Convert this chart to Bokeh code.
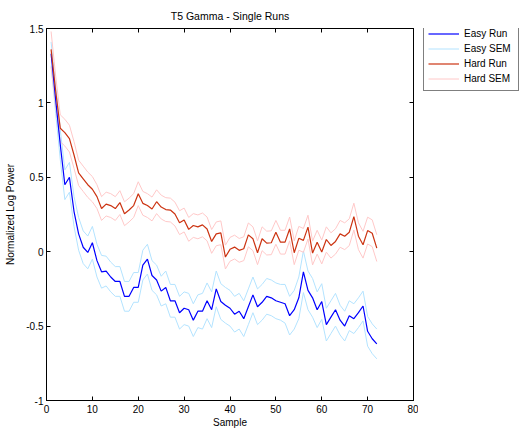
from bokeh.plotting import figure
from bokeh.layouts import row
from bokeh.models import (LinearAxis, Range1d, FixedTicker, CustomJSTickFormatter,
                          Legend, LegendItem)
from bokeh.embed import file_html
from bokeh.resources import INLINE

samples = list(range(1, 73))

easy_run = [1.33, 1.02, 0.72, 0.45, 0.50, 0.27, 0.12, 0.03, -0.005, 0.06,
            -0.06, -0.135, -0.13, -0.17, -0.20, -0.20, -0.30, -0.30, -0.24, -0.24,
            -0.09, -0.05, -0.16, -0.19, -0.265, -0.24, -0.33, -0.33, -0.41, -0.38,
            -0.39, -0.46, -0.40, -0.40, -0.33, -0.39, -0.25, -0.335, -0.36, -0.38,
            -0.42, -0.40, -0.45, -0.37, -0.29, -0.37, -0.34, -0.30, -0.31, -0.33,
            -0.34, -0.35, -0.43, -0.39, -0.31, -0.135, -0.26, -0.31, -0.39, -0.335,
            -0.49, -0.44, -0.39, -0.46, -0.50, -0.43, -0.45, -0.41, -0.365, -0.535,
            -0.585, -0.62]

easy_sem = [0.08, 0.09, 0.10, 0.10, 0.10, 0.10, 0.11, 0.11, 0.11, 0.11,
            0.11, 0.11, 0.10, 0.10, 0.10, 0.10, 0.10, 0.10, 0.10, 0.10,
            0.10, 0.10, 0.10, 0.10, 0.10, 0.11, 0.11, 0.11, 0.11, 0.11,
            0.11, 0.11, 0.11, 0.12, 0.12, 0.12, 0.12, 0.12, 0.12, 0.12,
            0.12, 0.12, 0.12, 0.12, 0.12, 0.12, 0.12, 0.12, 0.12, 0.12,
            0.12, 0.13, 0.13, 0.13, 0.14, 0.14, 0.13, 0.13, 0.12, 0.12,
            0.11, 0.11, 0.11, 0.10, 0.10, 0.10, 0.10, 0.10, 0.10, 0.10,
            0.10, 0.10]

hard_run = [1.36, 1.08, 0.83, 0.80, 0.76, 0.65, 0.53, 0.49, 0.45, 0.42,
            0.37, 0.29, 0.32, 0.31, 0.29, 0.33, 0.255, 0.28, 0.31, 0.39,
            0.325, 0.31, 0.287, 0.336, 0.30, 0.283, 0.28, 0.253, 0.195, 0.213,
            0.15, 0.176, 0.167, 0.18, 0.153, 0.069, 0.12, 0.127, -0.036, 0.016,
            0.031, 0.009, 0.02, 0.113, 0.087, -0.007, 0.087, 0.058, 0.06, 0.13,
            0.064, 0.064, 0.153, -0.007, 0.09, 0.076, 0.165, -0.009, 0.064, -0.002,
            0.082, 0.042, 0.069, 0.12, 0.104, 0.131, 0.236, 0.104, 0.047, 0.142,
            0.124, 0.024]

hard_sem = [0.12, 0.10, 0.09, 0.09, 0.09, 0.09, 0.085, 0.085, 0.085, 0.085,
            0.08, 0.08, 0.08, 0.08, 0.08, 0.08, 0.08, 0.08, 0.08, 0.08,
            0.08, 0.08, 0.08, 0.08, 0.08, 0.08, 0.08, 0.08, 0.08, 0.08,
            0.08, 0.08, 0.08, 0.08, 0.08, 0.08, 0.08, 0.08, 0.08, 0.08,
            0.08, 0.08, 0.08, 0.08, 0.08, 0.08, 0.08, 0.08, 0.08, 0.08,
            0.08, 0.08, 0.08, 0.08, 0.08, 0.08, 0.08, 0.08, 0.08, 0.08,
            0.085, 0.085, 0.085, 0.09, 0.09, 0.09, 0.09, 0.09, 0.09, 0.09,
            0.09, 0.09]

x_ticks = [0, 10, 20, 30, 40, 50, 60, 70, 80]
y_ticks = [-1, -0.5, 0, 0.5, 1, 1.5]
legend_labels = ["Easy Run", "Easy SEM", "Hard Run", "Hard SEM"]

easy_up = [r + s for r, s in zip(easy_run, easy_sem)]
easy_lo = [r - s for r, s in zip(easy_run, easy_sem)]
hard_up = [r + s for r, s in zip(hard_run, hard_sem)]
hard_lo = [r - s for r, s in zip(hard_run, hard_sem)]

FONT = "Liberation Sans"
C_EASY = "#0000FF"
C_EASY_SEM = "#B3E3FF"
C_HARD = "#CC3311"
C_HARD_SEM = "#FFC8C8"

p = figure(width=418, height=430,
           x_range=Range1d(0, 80), y_range=Range1d(-1, 1.5),
           output_backend="svg", toolbar_location=None,
           min_border_left=46, min_border_right=5, min_border_top=28, min_border_bottom=27,
           x_axis_label="Sample", y_axis_label="Normalized Log Power")
p.background_fill_color = "white"
p.border_fill_color = "white"
p.outline_line_color = "black"
p.outline_line_width = 1
p.xgrid.visible = False
p.ygrid.visible = False

p.title.text = "T5 Gamma - Single Runs"
p.title.align = "center"
p.title.text_font = FONT
p.title.text_font_style = "normal"
p.title.text_font_size = "10.5px"
p.title.text_color = "black"
p.title.standoff = 13

fmt = CustomJSTickFormatter(code="return tick.toString();")

for ax in p.xaxis:
    ax.ticker = FixedTicker(ticks=x_ticks)
    ax.formatter = fmt
for ax in p.yaxis:
    ax.ticker = FixedTicker(ticks=y_ticks)
    ax.formatter = fmt

for ax in list(p.xaxis) + list(p.yaxis):
    ax.major_tick_in = 4
    ax.major_tick_out = 0
    ax.minor_tick_line_color = None
    ax.axis_line_color = "black"
    ax.major_tick_line_color = "black"
    ax.major_label_text_font = FONT
    ax.major_label_text_font_size = "10px"
    ax.major_label_text_color = "black"
    ax.axis_label_text_font = FONT
    ax.axis_label_text_font_size = "10px"
    ax.axis_label_text_font_style = "normal"
    ax.axis_label_text_color = "black"

p.xaxis.major_label_standoff = 4
p.xaxis.axis_label_standoff = 1
p.yaxis.major_label_standoff = 3
p.yaxis.axis_label_standoff = 7

top = LinearAxis(ticker=FixedTicker(ticks=x_ticks), major_tick_in=4, major_tick_out=0,
                 minor_tick_line_color=None, major_label_text_font_size="1px",
                 major_label_text_color=None, major_label_standoff=0,
                 axis_line_color="black")
right = LinearAxis(ticker=FixedTicker(ticks=y_ticks), major_tick_in=4, major_tick_out=0,
                   minor_tick_line_color=None, major_label_text_font_size="1px",
                   major_label_text_color=None, major_label_standoff=0,
                   axis_line_color="black")
p.add_layout(top, "above")
p.add_layout(right, "right")

p.line(samples, easy_up, line_color=C_EASY_SEM, line_width=1)
p.line(samples, easy_lo, line_color=C_EASY_SEM, line_width=1)
p.line(samples, hard_up, line_color=C_HARD_SEM, line_width=1)
p.line(samples, hard_lo, line_color=C_HARD_SEM, line_width=1)
p.line(samples, easy_run, line_color=C_EASY, line_width=1.2)
p.line(samples, hard_run, line_color=C_HARD, line_width=1.2)

# legend panel to the right of the axes box (its own ranges keep the
# proxy lines out of view; only the legend box shows)
lg = figure(width=101, height=430, x_range=Range1d(-20, -10), y_range=Range1d(-1, 1.5),
            output_backend="svg", toolbar_location=None,
            x_axis_location=None, y_axis_location=None,
            min_border_left=0, min_border_right=0, min_border_top=0, min_border_bottom=0)
lg.xgrid.visible = False
lg.ygrid.visible = False
lg.outline_line_color = None
lg.background_fill_color = "white"
lg.border_fill_color = "white"

series = [easy_run, easy_up, hard_run, hard_up]
colors = [C_EASY, C_EASY_SEM, C_HARD, C_HARD_SEM]
widths = [1.2, 1, 1.2, 1]
items = []
for lab, ys, c, w in zip(legend_labels, series, colors, widths):
    rr = lg.line(samples, ys, line_color=c, line_width=w)
    items.append(LegendItem(label=lab, renderers=[rr]))

legend = Legend(items=items, location=(5, 309))
legend.border_line_color = "black"
legend.border_line_width = 1
legend.background_fill_color = "white"
legend.background_fill_alpha = 1
legend.label_text_font = FONT
legend.label_text_font_size = "10px"
legend.label_text_color = "black"
legend.glyph_width = 31
legend.glyph_height = 15
legend.label_height = 15
legend.label_width = 50
legend.label_standoff = 5
legend.spacing = 0
legend.padding = 4
legend.margin = 0
lg.add_layout(legend, "center")

layout = row(p, lg, spacing=0)
open("out.html", "w").write(file_html(layout, INLINE))
